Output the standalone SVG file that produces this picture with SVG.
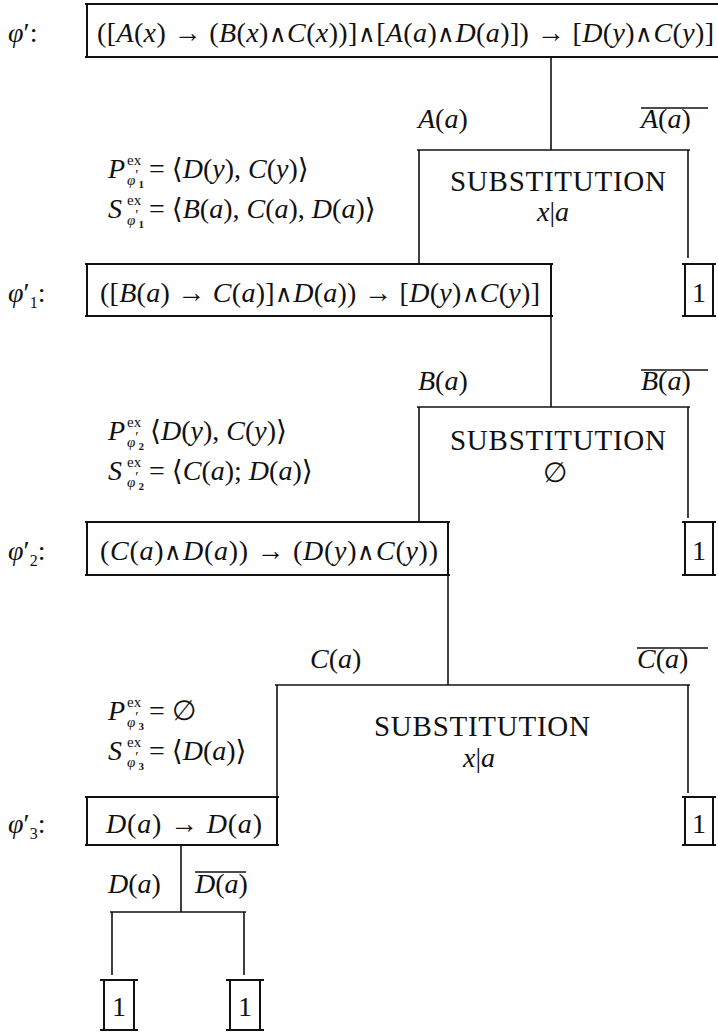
<svg xmlns="http://www.w3.org/2000/svg" width="718" height="1033" viewBox="0 0 718 1033">
  <style>
    text { font-family: "Liberation Serif", "DejaVu Serif", serif; fill: #111; }
    .m { font-size: 28px; }
    .sm { font-size: 15px; }
    .dg { font-size: 11px; font-weight: bold; }
    .i { font-style: italic; }
    .op { font-family: "DejaVu Sans", sans-serif; font-weight: 200; font-size: 24px; }
    .sub { font-size: 29px; }
    .box { fill: none; stroke: #111; stroke-width: 2; }
    .edge { fill: none; stroke: #111; stroke-width: 1.6; }
    .bar { fill: none; stroke: #111; stroke-width: 1.4; }
  </style>

  <rect x="0" y="0" width="718" height="1033" fill="#fff"/>

  <!-- root formula φ′ -->
  <g id="phi0">
    <text class="m" x="8" y="42"><tspan class="i">φ</tspan>′:</text>
    <path class="box" d="M85 4 H718 M85 57 H718 M87 4 V57"/>
    <text class="m" x="97" y="42" textLength="617">([<tspan class="i">A</tspan>(<tspan class="i">x</tspan>) → (<tspan class="i">B</tspan>(<tspan class="i">x</tspan>)<tspan class="op">∧</tspan><tspan class="i">C</tspan>(<tspan class="i">x</tspan>))]<tspan class="op">∧</tspan>[<tspan class="i">A</tspan>(<tspan class="i">a</tspan>)<tspan class="op">∧</tspan><tspan class="i">D</tspan>(<tspan class="i">a</tspan>)]) → [<tspan class="i">D</tspan>(<tspan class="i">y</tspan>)<tspan class="op">∧</tspan><tspan class="i">C</tspan>(<tspan class="i">y</tspan>)]</text>
  </g>

  <!-- φ′1 with its P / S sets -->
  <g id="phi1">
    <text class="m i" x="108" y="178">P</text>
    <text class="sm" x="127" y="165">ex</text>
    <text class="sm" x="127" y="185"><tspan class="i">φ</tspan><tspan dy="-5">′</tspan><tspan class="dg" dy="8">1</tspan></text>
    <text class="m" x="149" y="178">= ⟨<tspan class="i">D</tspan>(<tspan class="i">y</tspan>), <tspan class="i">C</tspan>(<tspan class="i">y</tspan>)⟩</text>
    <text class="m i" x="108" y="218">S</text>
    <text class="sm" x="127" y="205">ex</text>
    <text class="sm" x="127" y="225"><tspan class="i">φ</tspan><tspan dy="-5">′</tspan><tspan class="dg" dy="8">1</tspan></text>
    <text class="m" x="149" y="218">= ⟨<tspan class="i">B</tspan>(<tspan class="i">a</tspan>), <tspan class="i">C</tspan>(<tspan class="i">a</tspan>), <tspan class="i">D</tspan>(<tspan class="i">a</tspan>)⟩</text>

    <text class="m" x="8" y="302"><tspan class="i">φ</tspan>′<tspan font-size="16" dy="6">1</tspan><tspan dy="-6">:</tspan></text>
    <path class="box" d="M85 264 H553 M85 316 H553 M87 264 V316 M551 264 V316"/>
    <text class="m" x="100" y="302" textLength="440">([<tspan class="i">B</tspan>(<tspan class="i">a</tspan>) → <tspan class="i">C</tspan>(<tspan class="i">a</tspan>)]<tspan class="op">∧</tspan><tspan class="i">D</tspan>(<tspan class="i">a</tspan>)) → [<tspan class="i">D</tspan>(<tspan class="i">y</tspan>)<tspan class="op">∧</tspan><tspan class="i">C</tspan>(<tspan class="i">y</tspan>)]</text>
  </g>

  <!-- leaf of the A(a) branch -->
  <g id="leaf1">
    <path class="box" d="M682 264 H716 M682 316 H716 M685 264 V316 M713 264 V316"/>
    <text class="m" x="699" y="302" text-anchor="middle">1</text>
  </g>

  <!-- substitution x|a -->
  <g id="subst1">
    <text class="sub" x="450" y="191" textLength="216">SUBSTITUTION</text>
    <text class="m" x="553" y="221" text-anchor="middle"><tspan class="i">x</tspan>|<tspan class="i">a</tspan></text>
  </g>

  <!-- φ′2 with its P / S sets -->
  <g id="phi2">
    <text class="m i" x="108" y="440">P</text>
    <text class="sm" x="127" y="427">ex</text>
    <text class="sm" x="127" y="447"><tspan class="i">φ</tspan><tspan dy="-5">′</tspan><tspan class="dg" dy="8">2</tspan></text>
    <text class="m" x="150" y="440">⟨<tspan class="i">D</tspan>(<tspan class="i">y</tspan>), <tspan class="i">C</tspan>(<tspan class="i">y</tspan>)⟩</text>
    <text class="m i" x="108" y="480">S</text>
    <text class="sm" x="127" y="467">ex</text>
    <text class="sm" x="127" y="487"><tspan class="i">φ</tspan><tspan dy="-5">′</tspan><tspan class="dg" dy="8">2</tspan></text>
    <text class="m" x="149" y="480">= ⟨<tspan class="i">C</tspan>(<tspan class="i">a</tspan>); <tspan class="i">D</tspan>(<tspan class="i">a</tspan>)⟩</text>

    <text class="m" x="8" y="560"><tspan class="i">φ</tspan>′<tspan font-size="16" dy="6">2</tspan><tspan dy="-6">:</tspan></text>
    <path class="box" d="M85 522 H450 M85 575 H450 M87 522 V575 M448 522 V575"/>
    <text class="m" x="100" y="560" textLength="338">(<tspan class="i">C</tspan>(<tspan class="i">a</tspan>)<tspan class="op">∧</tspan><tspan class="i">D</tspan>(<tspan class="i">a</tspan>)) → (<tspan class="i">D</tspan>(<tspan class="i">y</tspan>)<tspan class="op">∧</tspan><tspan class="i">C</tspan>(<tspan class="i">y</tspan>))</text>
  </g>

  <!-- leaf of the B(a) branch -->
  <g id="leaf2">
    <path class="box" d="M682 522 H716 M682 575 H716 M685 522 V575 M713 522 V575"/>
    <text class="m" x="699" y="560" text-anchor="middle">1</text>
  </g>

  <!-- empty substitution -->
  <g id="subst2">
    <text class="sub" x="450" y="450" textLength="216">SUBSTITUTION</text>
    <text class="m" x="555" y="482" text-anchor="middle">∅</text>
  </g>

  <!-- φ′3 with its P / S sets -->
  <g id="phi3">
    <text class="m i" x="108" y="720">P</text>
    <text class="sm" x="127" y="707">ex</text>
    <text class="sm" x="127" y="727"><tspan class="i">φ</tspan><tspan dy="-5">′</tspan><tspan class="dg" dy="8">3</tspan></text>
    <text class="m" x="149" y="720">= ∅</text>
    <text class="m i" x="108" y="760">S</text>
    <text class="sm" x="127" y="747">ex</text>
    <text class="sm" x="127" y="767"><tspan class="i">φ</tspan><tspan dy="-5">′</tspan><tspan class="dg" dy="8">3</tspan></text>
    <text class="m" x="149" y="760">= ⟨<tspan class="i">D</tspan>(<tspan class="i">a</tspan>)⟩</text>

    <text class="m" x="8" y="833"><tspan class="i">φ</tspan>′<tspan font-size="16" dy="6">3</tspan><tspan dy="-6">:</tspan></text>
    <path class="box" d="M85 797 H279 M85 845 H279 M87 797 V845 M277 797 V845"/>
    <text class="m" x="106" y="833" textLength="156"><tspan class="i">D</tspan>(<tspan class="i">a</tspan>) → <tspan class="i">D</tspan>(<tspan class="i">a</tspan>)</text>
  </g>

  <!-- leaf of the C(a) branch -->
  <g id="leaf3">
    <path class="box" d="M682 797 H716 M682 845 H716 M685 797 V845 M713 797 V845"/>
    <text class="m" x="699" y="833" text-anchor="middle">1</text>
  </g>

  <!-- substitution x|a -->
  <g id="subst3">
    <text class="sub" x="374" y="736" textLength="216">SUBSTITUTION</text>
    <text class="m" x="479" y="767" text-anchor="middle"><tspan class="i">x</tspan>|<tspan class="i">a</tspan></text>
  </g>

  <!-- leaves of the D(a) branch -->
  <g id="leaf4">
    <path class="box" d="M100 980 H138 M100 1030 H138 M104 980 V1030 M134 980 V1030"/>
    <text class="m" x="119" y="1016" text-anchor="middle">1</text>
  </g>
  <g id="leaf5">
    <path class="box" d="M226 980 H264 M226 1030 H264 M230 980 V1030 M260 980 V1030"/>
    <text class="m" x="245" y="1016" text-anchor="middle">1</text>
  </g>

  <!-- branch connectors and their literals -->
  <g id="connectors">
    <!-- split on A(a) -->
    <path class="edge" d="M551 57 V150"/>
    <path class="bar" d="M417 150 H690"/>
    <path class="edge" d="M419 150 V264 M688 150 V258"/>
    <text class="m" x="418" y="128"><tspan class="i">A</tspan>(<tspan class="i">a</tspan>)</text>
    <text class="m" x="641" y="128"><tspan class="i">A</tspan>(<tspan class="i">a</tspan>)</text>
    <path class="bar" d="M641 108 H708"/>

    <!-- split on B(a) -->
    <path class="edge" d="M551 316 V407"/>
    <path class="bar" d="M417 407 H690"/>
    <path class="edge" d="M419 407 V522 M688 407 V518"/>
    <text class="m" x="418" y="390"><tspan class="i">B</tspan>(<tspan class="i">a</tspan>)</text>
    <text class="m" x="641" y="390"><tspan class="i">B</tspan>(<tspan class="i">a</tspan>)</text>
    <path class="bar" d="M641 370 H708"/>

    <!-- split on C(a) -->
    <path class="edge" d="M448 575 V685"/>
    <path class="bar" d="M275 685 H690"/>
    <path class="edge" d="M277 685 V797 M688 685 V793"/>
    <text class="m" x="310" y="668"><tspan class="i">C</tspan>(<tspan class="i">a</tspan>)</text>
    <text class="m" x="637" y="668"><tspan class="i">C</tspan>(<tspan class="i">a</tspan>)</text>
    <path class="bar" d="M637 648 H708"/>

    <!-- split on D(a) -->
    <path class="edge" d="M181 845 V912"/>
    <path class="bar" d="M110 912 H246"/>
    <path class="edge" d="M112 912 V975 M244 912 V975"/>
    <text class="m" x="108" y="893"><tspan class="i">D</tspan>(<tspan class="i">a</tspan>)</text>
    <text class="m" x="195" y="893"><tspan class="i">D</tspan>(<tspan class="i">a</tspan>)</text>
    <path class="bar" d="M195 872 H246"/>
  </g>
</svg>
